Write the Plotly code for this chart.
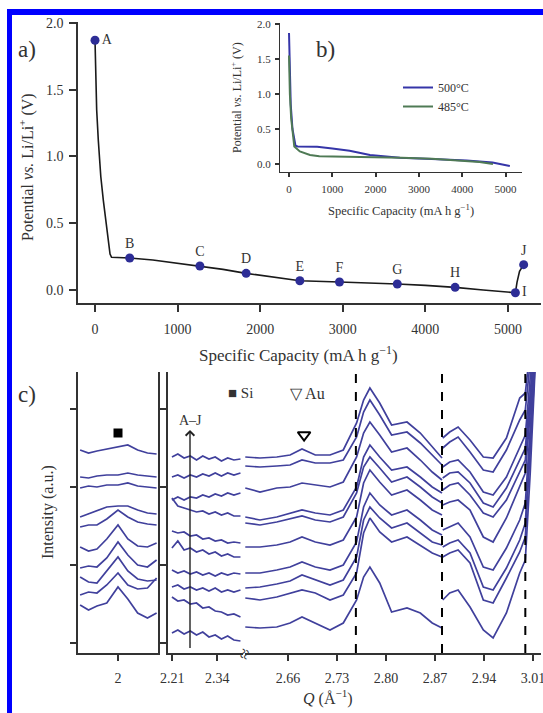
import plotly.graph_objects as go

W, H = 543, 713
FONT = 'Liberation Serif'
INK = '#333333'

# ---- a) discharge curve with sampling points ----
cap_a = [0, 8, 20, 40, 70, 101, 125, 149, 182, 200, 260, 420, 700, 1000, 1270, 1550, 1830, 2100,
         2480, 2960, 3300, 3660, 4000, 4360, 4700, 5090, 5110, 5140, 5190]
volt_a = [1.87, 1.6, 1.35, 1.12, 0.85, 0.67, 0.55, 0.43, 0.27, 0.245, 0.245, 0.24, 0.225, 0.20,
          0.18, 0.155, 0.125, 0.10, 0.07, 0.06, 0.055, 0.045, 0.035, 0.02, 0.0, -0.02, 0.06, 0.14, 0.19]
point_labels = ['A', 'B', 'C', 'D', 'E', 'F', 'G', 'H', 'I', 'J']
point_cap = [0, 420, 1270, 1830, 2480, 2960, 3660, 4360, 5090, 5190]
point_volt = [1.87, 0.24, 0.18, 0.125, 0.07, 0.06, 0.045, 0.02, -0.02, 0.19]

# ---- b) inset, two annealing temperatures ----
cap_500 = [0, 15, 40, 80, 120, 150, 200, 650, 1000, 1400, 1870, 2560, 3300, 4100, 4700, 5100]
volt_500 = [1.87, 1.3, 0.85, 0.5, 0.32, 0.26, 0.25, 0.245, 0.22, 0.19, 0.13, 0.09, 0.07, 0.05, 0.02, -0.03]
cap_485 = [0, 20, 50, 90, 122, 250, 485, 700, 1200, 2000, 2600, 3300, 4000, 4400, 4710]
volt_485 = [1.55, 1.0, 0.65, 0.4, 0.25, 0.18, 0.13, 0.11, 0.105, 0.1, 0.09, 0.075, 0.05, 0.03, 0.0]

# ---- c) diffraction patterns A (bottom) .. J (top) ----
q_si = [1.946, 1.958, 1.970, 1.984, 2.000, 2.014, 2.028, 2.042, 2.055]
int_si = [
    [38, 33, 37, 40, 56, 44, 30, 25, 30],
    [48, 51, 50, 58, 70, 58, 54, 55, 65],
    [66, 61, 60, 72, 86, 72, 64, 62, 63],
    [75, 77, 76, 85, 101, 88, 78, 76, 83],
    [96, 92, 94, 104, 118, 104, 97, 96, 100],
    [116, 118, 118, 124, 133, 126, 121, 119, 118],
    [126, 129, 132, 136, 137, 137, 133, 130, 129],
    [155, 157, 156, 158, 158, 160, 157, 156, 155],
    [166, 165, 167, 168, 168, 170, 168, 167, 166],
    [193, 190, 192, 194, 196, 198, 193, 190, 189],
]

q_lo = [2.209, 2.226, 2.244, 2.262, 2.280, 2.298, 2.316, 2.334, 2.352, 2.370, 2.388, 2.407]
int_lo = [
    [10, 13, 9, 12, 8, 11, 6, 8, 4, 7, 3, 2],
    [46, 42, 43, 39, 40, 35, 36, 32, 31, 28, 29, 26],
    [56, 58, 54, 56, 53, 55, 52, 55, 51, 53, 51, 53],
    [73, 70, 72, 69, 71, 68, 70, 67, 70, 68, 70, 69],
    [95, 102, 93, 95, 91, 93, 89, 91, 87, 89, 86, 86],
    [112, 110, 111, 107, 108, 104, 105, 102, 103, 100, 101, 100],
    [145, 137, 135, 133, 131, 132, 129, 131, 128, 130, 127, 127],
    [143, 146, 143, 146, 145, 148, 146, 149, 147, 150, 148, 150],
    [166, 168, 165, 168, 166, 169, 167, 170, 167, 170, 168, 170],
    [186, 189, 185, 187, 183, 187, 184, 186, 182, 185, 183, 184],
]

q_mid = [2.599, 2.620, 2.644, 2.663, 2.680, 2.699, 2.720, 2.739, 2.758,
         2.768, 2.777, 2.791, 2.808, 2.830, 2.849, 2.866, 2.880]
int_mid = [
    [16, 15, 16, 20, 26, 20, 13, 20, 43, 66, 76, 60, 31, 35, 30, 20, 15],
    [45, 43, 46, 50, 53, 50, 43, 48, 70, 110, 125, 111, 101, 106, 98, 90, 86],
    [55, 56, 59, 62, 68, 63, 58, 63, 86, 123, 136, 125, 115, 120, 110, 101, 98],
    [70, 70, 73, 76, 81, 76, 73, 78, 101, 136, 150, 138, 128, 133, 123, 113, 108],
    [96, 96, 98, 101, 106, 101, 98, 103, 126, 160, 173, 161, 148, 153, 143, 133, 128],
    [120, 118, 121, 124, 127, 123, 121, 126, 150, 176, 186, 175, 161, 166, 156, 146, 140],
    [126, 123, 126, 130, 133, 130, 128, 133, 156, 186, 198, 186, 173, 176, 166, 156, 150],
    [155, 151, 155, 156, 160, 158, 156, 161, 186, 210, 221, 208, 191, 195, 183, 171, 163],
    [177, 176, 177, 178, 183, 180, 180, 183, 206, 231, 243, 228, 208, 211, 200, 188, 178],
    [186, 185, 186, 188, 194, 188, 188, 193, 220, 243, 255, 240, 218, 221, 210, 196, 185],
]

q_hi = [2.881, 2.891, 2.903, 2.920, 2.939, 2.953, 2.972, 2.991, 2.999, 3.006, 3.013]
int_hi = [
    [43, 50, 53, 36, 13, 5, 30, 70, 83, 170, 275],
    [86, 90, 93, 80, 43, 40, 65, 91, 106, 190, 280],
    [96, 100, 103, 90, 56, 53, 75, 103, 120, 200, 285],
    [113, 116, 120, 106, 76, 73, 95, 123, 140, 215, 290],
    [138, 141, 143, 133, 106, 101, 125, 156, 170, 230, 300],
    [153, 158, 160, 148, 130, 126, 143, 170, 183, 240, 305],
    [165, 170, 171, 160, 140, 136, 155, 183, 195, 250, 310],
    [176, 181, 183, 171, 151, 148, 166, 195, 208, 265, 320],
    [195, 201, 206, 191, 173, 171, 193, 223, 233, 285, 330],
    [205, 211, 216, 203, 186, 185, 205, 245, 250, 300, 340],
]

si_peak = ([2.0], [210])
au_peak = ([2.683], [208])
stitch_q = [2.757, 2.88, 2.999]


def px(x):
    return x / W


def py(y):
    return 1 - y / H


fig = go.Figure()

fig.add_trace(go.Scatter(x=cap_a, y=volt_a, mode='lines', line=dict(color='#1a1a1a', width=1.6),
                         xaxis='x', yaxis='y', showlegend=False, hoverinfo='skip'))
label_pos = ['middle right'] + ['top center'] * 7 + ['middle right', 'top center']
fig.add_trace(go.Scatter(x=point_cap, y=point_volt, mode='markers+text', text=point_labels,
                         textposition=label_pos, cliponaxis=False,
                         marker=dict(color='#2d2d96', size=9),
                         textfont=dict(family=FONT, size=14, color=INK),
                         xaxis='x', yaxis='y', showlegend=False))

fig.add_trace(go.Scatter(x=cap_500, y=volt_500, mode='lines', name='500°C',
                         line=dict(color='#3535a8', width=2), xaxis='x2', yaxis='y2'))
fig.add_trace(go.Scatter(x=cap_485, y=volt_485, mode='lines', name='485°C',
                         line=dict(color='#4f7a55', width=2), xaxis='x2', yaxis='y2'))

line_c = dict(color='#40409c', width=1.7)
for k in range(10):
    for q, vals, xa, ya in ((q_si, int_si, 'x3', 'y3'), (q_lo, int_lo, 'x4', 'y4'),
                            (q_mid, int_mid, 'x5', 'y4'), (q_hi, int_hi, 'x5', 'y4')):
        fig.add_trace(go.Scatter(x=q, y=vals[k], mode='lines', line=line_c, xaxis=xa, yaxis=ya,
                                 showlegend=False, hoverinfo='skip'))

fig.add_trace(go.Scatter(x=si_peak[0], y=si_peak[1], mode='markers',
                         marker=dict(symbol='square', size=9, color='black'),
                         xaxis='x3', yaxis='y3', showlegend=False))
fig.add_trace(go.Scatter(x=au_peak[0], y=au_peak[1], mode='markers',
                         marker=dict(symbol='triangle-down-open', size=11, color='black',
                                     line=dict(width=2)),
                         xaxis='x5', yaxis='y4', showlegend=False))

ax = dict(showline=True, linecolor=INK, linewidth=1.5, ticks='outside', tickcolor=INK,
          tickwidth=1.5, showgrid=False, zeroline=False, automargin=False,
          ticklabeloverflow='allow', tickfont=dict(family=FONT, size=14, color=INK))
ax_small = dict(ax, tickfont=dict(family=FONT, size=11, color=INK), ticklen=4, linewidth=1.3)
c_ticks = [0, 78, 156, 234]

shapes = [
    dict(type='rect', xref='paper', yref='paper', x0=px(7), x1=px(12), y0=0, y1=py(9),
         fillcolor='#0000ff', line=dict(width=0)),
    dict(type='rect', xref='paper', yref='paper', x0=px(7), x1=1, y0=py(15), y1=py(9),
         fillcolor='#0000ff', line=dict(width=0)),
]
for q in stitch_q:
    shapes.append(dict(type='line', xref='x5', yref='y4 domain', x0=q, x1=q, y0=0, y1=1,
                       line=dict(color='black', width=2, dash='dash')))

annotations = [
    dict(x=px(16), y=py(49), text='a)', font=dict(size=23)),
    dict(x=px(314), y=py(49), text='b)', font=dict(size=23)),
    dict(x=px(16), y=py(395), text='c)', font=dict(size=23)),
    dict(x=px(27), y=py(167), text='Potential <i>vs.</i> Li/Li<sup>+</sup> (V)', textangle=-90,
         font=dict(size=16), xanchor='center'),
    dict(x=px(298), y=py(354), text='Specific Capacity (mA h g<sup>−1</sup>)',
         font=dict(size=17), xanchor='center'),
    dict(x=px(236), y=py(98), text='Potential <i>vs.</i> Li/Li<sup>+</sup> (V)', textangle=-90,
         font=dict(size=12), xanchor='center'),
    dict(x=px(401), y=py(210), text='Specific Capacity (mA h g<sup>−1</sup>)',
         font=dict(size=12.5), xanchor='center'),
    dict(x=px(48), y=py(512), text='Intensity (a.u.)', textangle=-90,
         font=dict(size=16), xanchor='center'),
    dict(x=px(328), y=py(697), text='<i>Q</i> (Å<sup>−1</sup>)', font=dict(size=16),
         xanchor='center'),
    dict(x=px(226), y=py(393), text='■ Si', font=dict(size=15)),
    dict(x=px(288), y=py(393), text='▽ Au', font=dict(size=16)),
    dict(x=px(190), y=py(420), text='A–J', font=dict(size=14), xanchor='center'),
    dict(x=px(190), y=py(430), ax=0, ay=218, text='', showarrow=True, arrowhead=4,
         arrowsize=1.2, arrowwidth=1.4, arrowcolor='#222222'),
    dict(x=px(244), y=py(654), text='≈', textangle=-70, font=dict(size=19), xanchor='center'),
]
for a in annotations:
    a.setdefault('xref', 'paper')
    a.setdefault('yref', 'paper')
    a.setdefault('showarrow', False)
    a.setdefault('xanchor', 'left')
    a.setdefault('yanchor', 'middle')
    a['font'] = dict(family=FONT, color=INK, **a.get('font', {}))

fig.update_layout(
    width=W, height=H, margin=dict(l=0, r=0, t=0, b=0, autoexpand=False),
    paper_bgcolor='white', plot_bgcolor='white',
    font=dict(family=FONT, color=INK),
    xaxis=dict(ax, domain=[px(78), px(541)], range=[-206, 5400], anchor='y',
               tickvals=[0, 1000, 2000, 3000, 4000, 5000], ticklen=7, ticklabelstandoff=5),
    yaxis=dict(ax, domain=[py(303), py(22)], range=[-0.097, 2.007], anchor='x',
               tickvals=[0, 0.5, 1, 1.5, 2], tickformat='.1f', ticklen=7, ticklabelstandoff=3),
    xaxis2=dict(ax_small, domain=[px(280), px(522)], range=[-208, 5381], anchor='y2',
                tickvals=[0, 1000, 2000, 3000, 4000, 5000], ticklabelstandoff=3),
    yaxis2=dict(ax_small, domain=[py(171.7), py(23)], range=[-0.11, 2.014], anchor='x2',
                tickvals=[0, 0.5, 1, 1.5, 2], tickformat='.1f', ticklabelstandoff=2),
    xaxis3=dict(ax, domain=[px(78), px(158)], range=[1.943, 2.057], anchor='y3',
                tickvals=[2.0], ticktext=['2'], ticklen=6, ticklabelstandoff=5),
    yaxis3=dict(ax, domain=[py(653), py(372)], range=[-10, 271], anchor='x3', mirror=True,
                tickvals=c_ticks, showticklabels=False, ticklen=6),
    xaxis4=dict(ax, domain=[px(168), px(243)], range=[2.1976, 2.4143], anchor='y4',
                tickvals=[2.21, 2.34], ticktext=['2.21', '2.34'], ticklen=6, ticklabelstandoff=5),
    yaxis4=dict(ax, domain=[py(653), py(372)], range=[-10, 271], anchor='x4',
                tickvals=c_ticks, showticklabels=False, ticklen=6),
    xaxis5=dict(ax, domain=[px(245), px(541)], range=[2.5986, 3.0214], anchor='y4',
                tickvals=[2.66, 2.73, 2.80, 2.87, 2.94, 3.01],
                ticktext=['2.66', '2.73', '2.80', '2.87', '2.94', '3.01'],
                ticklen=6, ticklabelstandoff=5),
    legend=dict(x=px(398), y=py(73), xanchor='left', yanchor='top', bgcolor='rgba(0,0,0,0)',
                font=dict(family=FONT, size=12, color=INK), itemwidth=30),
    shapes=shapes,
    annotations=annotations,
)

fig.write_html("out.html", config={'displayModeBar': False},
               post_script="document.body.style.margin='0';")
